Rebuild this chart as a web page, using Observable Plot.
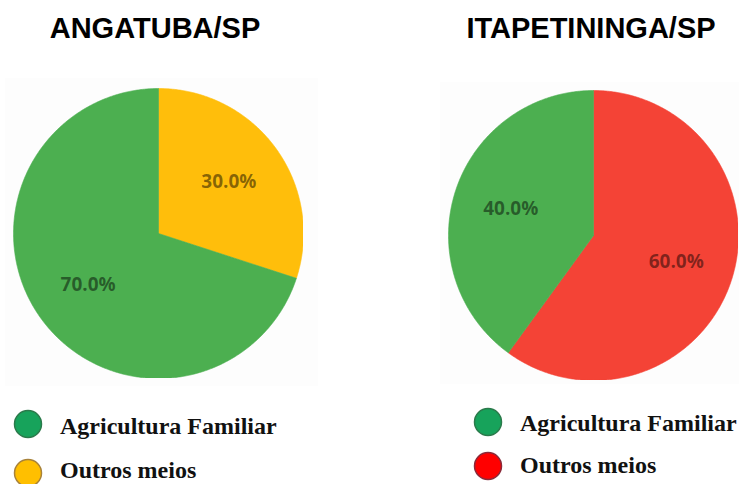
<!DOCTYPE html>
<html><head><meta charset="utf-8">
<script src="https://cdn.jsdelivr.net/npm/d3@7"></script>
<script src="https://cdn.jsdelivr.net/npm/@observablehq/plot@0.6"></script>
<style>
html,body{margin:0;padding:0;background:#fff;}
#root{position:relative;width:739px;height:484px;overflow:hidden;background:#fff;}
.bg{position:absolute;background:#fdfdfd;}
.pie{position:absolute;}
.pie svg{background:transparent;}
#overlay{position:absolute;left:0;top:0;}
</style></head><body><div id="root"></div>
<script>
// ---- data ----
const cities = ["ANGATUBA/SP", "ITAPETININGA/SP"];
const categories = ["Agricultura Familiar", "Outros meios"];
const angatubaValues = [70, 30];      // % Agricultura Familiar, Outros meios
const itapetiningaValues = [40, 60];
const pieColorsAngatuba = ["#4CAF50", "#FFBE0B"];
const pieColorsItapetininga = ["#4CAF50", "#F44336"];
const legendColorsAngatuba = ["#17A35B", "#FFBF00"];
const legendColorsItapetininga = ["#17A35B", "#FF0000"];

// ---- layout ----
const R = 145;
const layouts = [
  {cx: 158, cy: 233, titleX: 155, legX: 28, legY: [424, 473], legBase: [434, 478], legOutline: ["#2b7a4b", "#a8823a"], bg: [5, 78, 313, 308]},
  {cx: 593, cy: 235, titleX: 591, legX: 488, legY: [422, 466], legBase: [431, 473], legOutline: ["#2b7a4b", "#8a2a3a"], bg: [440, 82, 299, 302]}
];
const series = [
  {name: cities[0], values: angatubaValues, colors: pieColorsAngatuba, legend: legendColorsAngatuba},
  {name: cities[1], values: itapetiningaValues, colors: pieColorsItapetininga, legend: legendColorsItapetininga}
];

const root = document.getElementById("root");

function pieRows(values) {
  // slices drawn clockwise from 12 o'clock: "Outros meios" first, then "Agricultura Familiar"
  const order = [1, 0];
  const total = d3.sum(values);
  const rows = [], labels = [];
  let acc = 0;
  for (const i of order) {
    const a0 = acc / total * 2 * Math.PI;
    acc += values[i];
    const a1 = acc / total * 2 * Math.PI;
    rows.push({category: categories[i], x: 0, y: 0});
    const n = Math.max(2, Math.ceil((a1 - a0) / (Math.PI / 360)));
    for (let k = 0; k <= n; k++) {
      const a = a0 + (a1 - a0) * k / n;
      rows.push({category: categories[i], x: Math.sin(a), y: Math.cos(a)});
    }
    rows.push({category: categories[i], x: 0, y: 0});
    const am = (a0 + a1) / 2;
    labels.push({x: 0.6 * Math.sin(am), y: 0.6 * Math.cos(am), text: (values[i] / total * 100).toFixed(1) + "%"});
  }
  return {rows, labels};
}

series.forEach((s, j) => {
  const L = layouts[j];
  const bg = document.createElement("div");
  bg.className = "bg";
  Object.assign(bg.style, {left: L.bg[0] + "px", top: L.bg[1] + "px", width: L.bg[2] + "px", height: L.bg[3] + "px"});
  root.appendChild(bg);

  const {rows, labels} = pieRows(s.values);
  const chart = Plot.plot({
    width: 2 * R, height: 2 * R, margin: 0,
    x: {domain: [-1, 1], axis: null},
    y: {domain: [-1, 1], axis: null},
    color: {domain: categories, range: s.colors},
    style: {background: "transparent"},
    marks: [
      Plot.line(rows, {x: "x", y: "y", z: "category", fill: "category", stroke: "category", strokeWidth: 0.6, curve: "linear"}),
      Plot.text(labels, {x: "x", y: "y", text: "text", fill: "black", fillOpacity: 0.48,
        fontSize: 19, fontWeight: "bold", fontFamily: "'Open Sans', 'Noto Sans', sans-serif"})
    ]
  });
  const wrap = document.createElement("div");
  wrap.className = "pie";
  wrap.style.left = (L.cx - R) + "px";
  wrap.style.top = (L.cy - R) + "px";
  wrap.appendChild(chart);
  root.appendChild(wrap);
});

// ---- titles and legends (text overlay) ----
const svg = d3.select(root).append("svg").attr("id", "overlay")
  .attr("width", 739).attr("height", 484);
series.forEach((s, j) => {
  const L = layouts[j];
  svg.append("text")
    .attr("x", L.titleX).attr("y", 38)
    .attr("text-anchor", "middle")
    .attr("font-family", "'Liberation Sans', Arial, sans-serif")
    .attr("font-weight", "bold").attr("font-size", 29)
    .attr("fill", "#000")
    .text(s.name);
  categories.forEach((c, i) => {
    svg.append("circle").attr("cx", L.legX).attr("cy", L.legY[i]).attr("r", 13.5)
      .attr("fill", s.legend[i]).attr("stroke", L.legOutline[i]).attr("stroke-width", 1.5);
    svg.append("text")
      .attr("x", L.legX + 32).attr("y", L.legBase[i])
      .attr("font-family", "'Liberation Serif', 'Times New Roman', serif")
      .attr("font-weight", "bold").attr("font-size", 24)
      .attr("fill", "#111")
      .text(c);
  });
});
</script>
</body></html>
